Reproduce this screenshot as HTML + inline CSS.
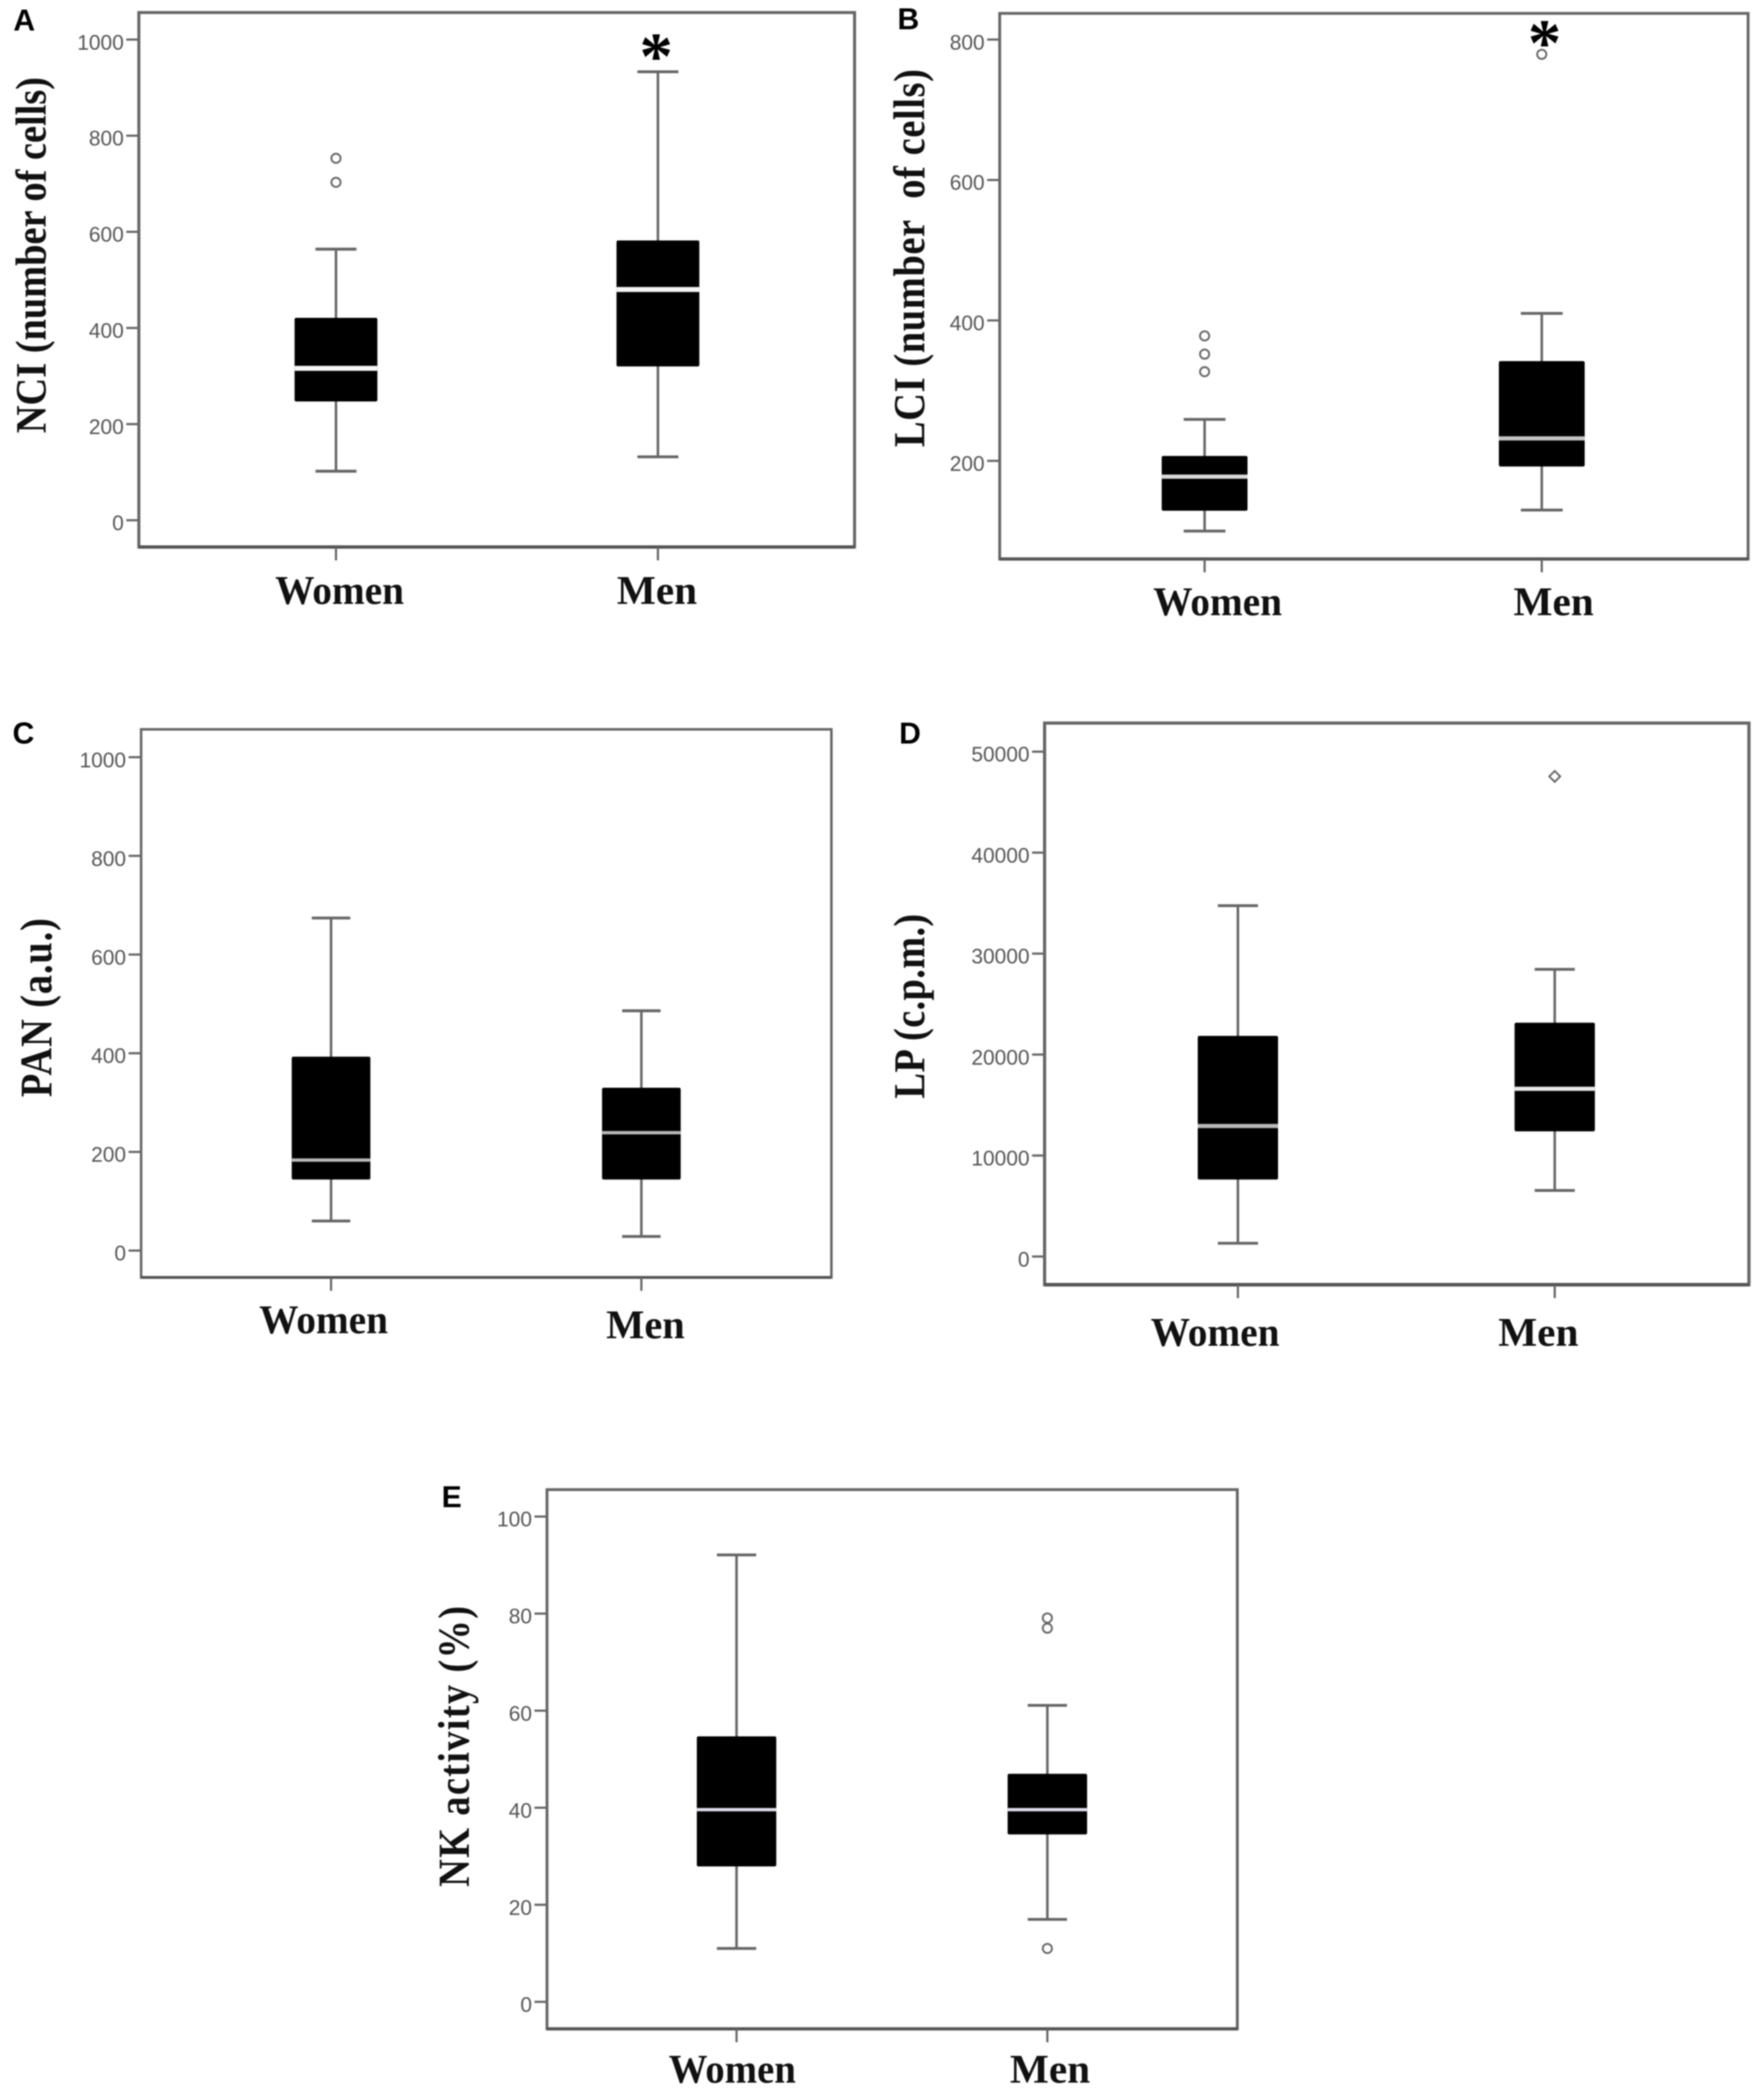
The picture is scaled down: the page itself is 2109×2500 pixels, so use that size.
<!DOCTYPE html>
<html lang="en">
<head>
<meta charset="utf-8">
<title>Box plots of immune function in women and men</title>
<style>
html,body{margin:0;padding:0;background:#fff;width:2109px;height:2500px;overflow:hidden}
svg{display:block;filter:blur(0.8px)}
.tick-label{font-family:"Liberation Sans",sans-serif;font-size:25px;fill:#555;text-anchor:end}
.cat-label{font-family:"Liberation Serif",serif;font-weight:bold;font-size:49px;fill:#111;text-anchor:middle}
.y-title{font-family:"Liberation Serif",serif;font-weight:bold;font-size:46px;fill:#111;text-anchor:middle}
.panel-letter{font-family:"Liberation Sans",sans-serif;font-weight:bold;font-size:36px;fill:#000}
.star{font-family:"Liberation Serif",serif;font-weight:bold;font-size:80px;fill:#000;text-anchor:middle}
</style>
</head>
<body>
<svg id="figure" xmlns="http://www.w3.org/2000/svg" width="2109" height="2500" viewBox="0 0 2109 2500"></svg>
<script>
// ---- data: each five-number summary is [low whisker, Q1, median, Q3, high whisker] ----
const categories = ['Women', 'Men'];

const ticksA = [0, 200, 400, 600, 800, 1000];
const womenA = [102, 247, 316, 421, 564];
const menA = [132, 320, 480, 582, 933];
const womenOutliersA = [703, 753];
const menOutliersA = [];

const ticksB = [200, 400, 600, 800];
const womenB = [100, 129, 177.5, 207, 259];
const menB = [130, 192, 232, 342, 410];
const womenOutliersB = [327, 352, 378];
const menOutliersB = [779];

const ticksC = [0, 200, 400, 600, 800, 1000];
const womenC = [60, 144, 183.5, 393, 674];
const menC = [28.6, 144, 239, 330, 486];
const womenOutliersC = [];
const menOutliersC = [];

const ticksD = [0, 10000, 20000, 30000, 40000, 50000];
const womenD = [1310, 7620, 12930, 21850, 34750];
const menD = [6540, 12400, 16610, 23160, 28440];
const womenOutliersD = [];
const menOutliersD = [47550];

const ticksE = [0, 20, 40, 60, 80, 100];
const womenE = [11, 27.9, 39.6, 54.7, 92.1];
const menE = [17, 34.5, 39.6, 47, 61.1];
const womenOutliersE = [];
const menOutliersE = [11, 77, 79.1];

// ---- layout only ----
const panels = [
  {id:'a', letter:'A', lx:16, ly:36.5, frame:[166,15,1021.7,654], frameW:3.6, axisV:[0,1000], axisY:[622,47.3], catX:[401.7,786.6],
   boxW:99, capW:49, ticks:ticksA, series:[womenA,menA], outliers:[womenOutliersA,menOutliersA],
   title:'NCI (number of cells)', tx:54.7, tcy:305, tlen:426, tstretch:1.12,
   labelX:[406,785.5], labelY:[722,722], labelW:[154,96], medianColor:['#f4f4f4','#f4f4f4'], medianW:6, diamond:false, star:[784.5,94.5]},
  {id:'b', letter:'B', lx:1073, ly:35, frame:[1195.2,16,2090,668.3], frameW:3.4, axisV:[200,800], axisY:[551,47.3], catX:[1440.2,1843.3],
   boxW:102.6, capW:50, ticks:ticksB, series:[womenB,menB], outliers:[womenOutliersB,menOutliersB],
   title:'LCI (number\u00a0\u00a0of cells)', tx:1105, tcy:308.5, tlen:452, tstretch:1.15,
   labelX:[1455.8,1857.5], labelY:[735.5,735.5], labelW:[154,96], medianColor:['#d8d8d8','#c4c4c4'], medianW:5, diamond:false, star:[1846.6,78.6]},
  {id:'c', letter:'C', lx:15, ly:889, frame:[168.7,872,994,1527.3], frameW:3, axisV:[0,1000], axisY:[1495.2,905.3], catX:[395.8,766.8],
   boxW:94, capW:46, ticks:ticksC, series:[womenC,menC], outliers:[womenOutliersC,menOutliersC],
   title:'PAN (a.u.)', tx:61.7, tcy:1204.7, tlen:214, tstretch:1.18,
   labelX:[386.9,771.7], labelY:[1594.2,1600], labelW:[154,94], medianColor:['#b8b8b8','#b8b8b8'], medianW:4, diamond:false, star:null},
  {id:'d', letter:'D', lx:1075, ly:889, frame:[1248.9,864.5,2091,1536], frameW:3.8, axisV:[0,50000], axisY:[1502.3,898.7], catX:[1480,1858.8],
   boxW:96, capW:48, ticks:ticksD, series:[womenD,menD], outliers:[womenOutliersD,menOutliersD],
   title:'LP (c.p.m.)', tx:1105, tcy:1203, tlen:221, tstretch:1.15,
   labelX:[1452.8,1839.2], labelY:[1609,1609], labelW:[154,96], medianColor:['#b8b8b8','#e8e8e8'], medianW:5, diamond:true, star:null},
  {id:'e', letter:'E', lx:528, ly:1802, frame:[654,1781,1479.3,2425.7], frameW:3.4, axisV:[0,100], axisY:[2393.4,1813.2], catX:[880.6,1252.2],
   boxW:95, capW:47, ticks:ticksE, series:[womenE,menE], outliers:[womenOutliersE,menOutliersE],
   title:'NK activity (%)', tx:560.7, tcy:2088, tlen:336, tstretch:1.16,
   labelX:[875.5,1255.4], labelY:[2490,2490], labelW:[152,96], medianColor:['#dcdcec','#dcdcec'], medianW:4, diamond:false, star:null}
];

const NS = 'http://www.w3.org/2000/svg';
const figure = document.getElementById('figure');
const LINE = '#666';

function make(tag, attrs, parent, text) {
  const node = document.createElementNS(NS, tag);
  for (const k in attrs) node.setAttribute(k, attrs[k]);
  if (text !== undefined) node.textContent = text;
  parent.appendChild(node);
  return node;
}

function drawPanel(p) {
  const yScale = v => p.axisY[0] + (v - p.axisV[0]) * (p.axisY[1] - p.axisY[0]) / (p.axisV[1] - p.axisV[0]);
  const xScale = i => p.catX[i];
  const [L, T, R, B] = p.frame;
  let el;

  const g = make('g', {}, figure);
  
  

  el = make('text', {x:p.lx, y:p.ly, class:'panel-letter'}, g, p.letter);
  
  

  el = make('rect', {x:L, y:T, width:R-L, height:B-T, fill:'#fff', stroke:LINE, 'stroke-width':p.frameW}, g);
  
  

  el = make('line', {x1:L, x2:R, y1:B, y2:B, stroke:'#555', 'stroke-width':p.frameW + 0.4}, g);
  
  

  p.ticks.forEach(t => {
    const y = yScale(t);
    const tick = make('line', {x1:L-15, x2:L, y1:y, y2:y, stroke:LINE, 'stroke-width':2.6}, g);
    
    
    const lab = make('text', {x:L-18, y:y+12, class:'tick-label'}, g, String(t));
    
    
  });

  const title = make('text', {x:0, y:0, class:'y-title', textLength:p.tlen,
    transform:'translate(' + p.tx + ' ' + p.tcy + ') rotate(-90) scale(1 ' + p.tstretch + ')'}, g, p.title);
  
  

  categories.forEach((cat, i) => {
    const cx = xScale(i);
    const s = p.series[i];
    const low = yScale(s[0]), q1 = yScale(s[1]), med = yScale(s[2]), q3 = yScale(s[3]), high = yScale(s[4]);
    const key = cat.toLowerCase();

    const xt = make('line', {x1:cx, x2:cx, y1:B, y2:B+16, stroke:LINE, 'stroke-width':2.6}, g);
    
    

    const catLabel = make('text', {x:p.labelX[i], y:p.labelY[i], class:'cat-label', textLength:p.labelW[i], lengthAdjust:'spacingAndGlyphs'}, g, cat);
    
    

    const whisker = make('line', {x1:cx, x2:cx, y1:high, y2:low, stroke:LINE, 'stroke-width':3}, g);
    
    

    const capHigh = make('line', {x1:cx-p.capW/2, x2:cx+p.capW/2, y1:high, y2:high, stroke:LINE, 'stroke-width':3.4}, g);
    
    

    const capLow = make('line', {x1:cx-p.capW/2, x2:cx+p.capW/2, y1:low, y2:low, stroke:LINE, 'stroke-width':3.4}, g);
    
    

    const box = make('rect', {x:cx-p.boxW/2, y:q3, width:p.boxW, height:q1-q3, fill:'#000', rx:2}, g);
    
    

    const median = make('line', {x1:cx-p.boxW/2, x2:cx+p.boxW/2, y1:med, y2:med, stroke:p.medianColor[i], 'stroke-width':p.medianW}, g);
    
    

    p.outliers[i].forEach(v => {
      const oy = yScale(v);
      let o;
      if (p.diamond) {
        o = make('polygon', {points:[cx,oy-6.5,cx+6.5,oy,cx,oy+6.5,cx-6.5,oy].join(' '), fill:'#fff', stroke:LINE, 'stroke-width':2.2}, g);
      } else {
        o = make('circle', {cx:cx, cy:oy, r:5.5, fill:'#fff', stroke:LINE, 'stroke-width':2.2}, g);
      }
      
      
    });
  });

  if (p.star) {
    const star = make('text', {x:p.star[0], y:p.star[1], class:'star'}, g, '*');
    
    
  }
}

panels.forEach(drawPanel);
</script>
</body>
</html>
